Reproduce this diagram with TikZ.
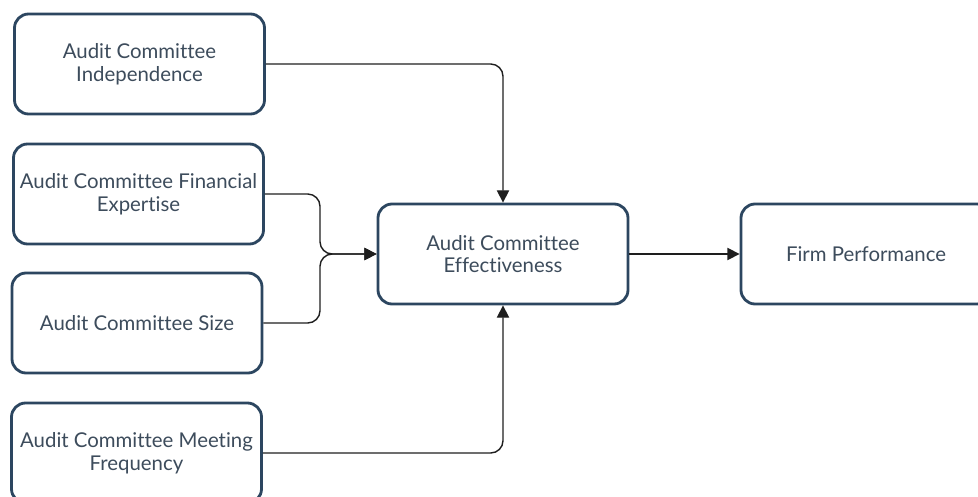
\documentclass[tikz,border=0pt]{standalone}
\usepackage{fontspec}
\setmainfont{Lato}[Ligatures=NoCommon]
\usepackage{xcolor}
\usepackage{tikz}
\usetikzlibrary{arrows.meta}

\definecolor{boxline}{HTML}{2C4660}
\definecolor{boxtext}{HTML}{3D4C5C}
\definecolor{linkline}{HTML}{1E1E1E}

\tikzset{
    factor/.style={draw=boxline, line width=1.6pt, rounded corners=8pt, fill=white,
        minimum width=250*0.02cm, minimum height=100*0.02cm, align=center,
        text=boxtext, font=\fontsize{11.6}{13}\selectfont, inner sep=2pt},
    link/.style={draw=linkline, line width=0.8pt, rounded corners=7pt,
        -{Triangle[length=7pt,width=7pt]}}
}

\begin{document}
\begin{tikzpicture}[x=0.02cm, y=-0.02cm]
    \useasboundingbox (0,0) rectangle (978,497);

    % Factors
    \node[factor] (indep) at (139.5,64) {Audit Committee\\Independence};
    \node[factor] (expert) at (138.5,194) {Audit Committee Financial\\Expertise};
    \node[factor] (size) at (137,323) {Audit Committee Size};
    \node[factor] (meet) at (136.5,453) {Audit Committee Meeting\\Frequency};

    % Effectiveness and performance
    \node[factor] (effect) at (503,254) {Audit Committee\\Effectiveness};
    \node[factor] (perf) at (866,254) {Firm Performance};

    % Arrows
    \coordinate (merge) at (320,254);
    \draw[link] (indep.east) -| (effect.north);
    \draw[link] (expert.east) -| (merge) -- (effect.west);
    \draw[link] (size.east) -| (merge) -- (effect.west);
    \draw[link] (meet.east) -| (effect.south);
    \draw[link] (effect.east) -- (perf.west);

\end{tikzpicture}
\end{document}
